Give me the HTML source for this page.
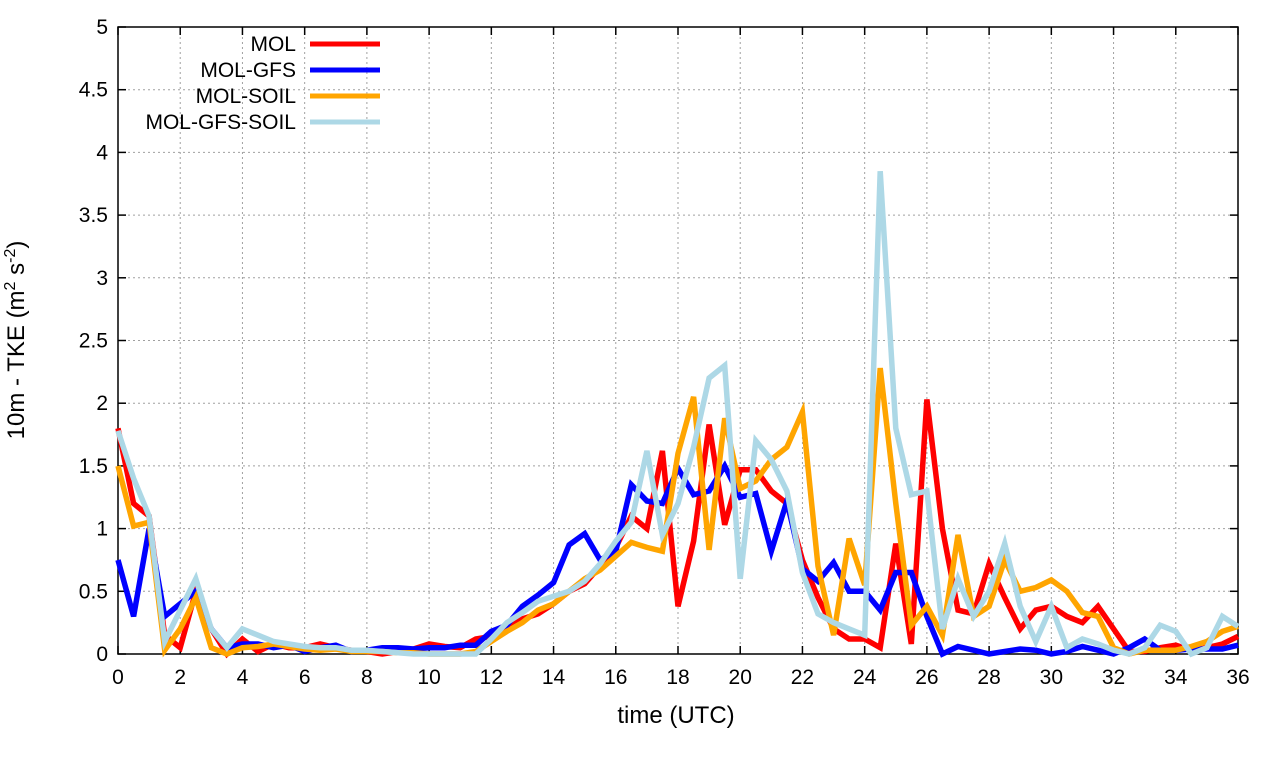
<!DOCTYPE html>
<html><head><meta charset="utf-8"><style>
body{margin:0;background:#fff;}
svg text{font-family:"Liberation Sans",sans-serif;fill:#000;}
</style></head><body>
<svg id="chart" width="1280" height="760" xmlns="http://www.w3.org/2000/svg">
<g id="grid"></g>
<g id="axes"></g>
<g id="series"></g>
<g id="legend"></g>
<text x="676" y="723" font-size="24" text-anchor="middle">time (UTC)</text>
<text transform="translate(24,340) rotate(-90)" font-size="24" text-anchor="middle">10m - TKE (m<tspan font-size="16" dy="-9">2</tspan><tspan dy="9"> s</tspan><tspan font-size="16" dy="-9">-2</tspan><tspan dy="9">)</tspan></text>
</svg>
<script>
const xTicks=[0,2,4,6,8,10,12,14,16,18,20,22,24,26,28,30,32,34,36];
const yTicks=[0,0.5,1,1.5,2,2.5,3,3.5,4,4.5,5];
const yTickLabels=["0","0.5","1","1.5","2","2.5","3","3.5","4","4.5","5"];
const seriesNames=["MOL","MOL-GFS","MOL-SOIL","MOL-GFS-SOIL"];
const timeStep=0.5;
const mol=[1.8,1.2,1.1,0.15,0.05,0.5,0.2,0.0,0.12,0.02,0.08,0.05,0.05,0.08,0.05,0.03,0.02,0.0,0.02,0.04,0.08,0.06,0.05,0.12,0.14,0.2,0.28,0.32,0.4,0.5,0.56,0.7,0.85,1.1,1.0,1.62,0.38,0.9,1.83,1.03,1.47,1.47,1.3,1.2,0.75,0.45,0.2,0.12,0.12,0.05,0.88,0.08,2.03,1.0,0.35,0.32,0.72,0.45,0.2,0.35,0.38,0.3,0.25,0.38,0.2,0.02,0.02,0.05,0.07,0.03,0.05,0.08,0.14];
const molGfs=[0.75,0.3,1.0,0.3,0.4,0.5,0.2,0.05,0.08,0.08,0.05,0.07,0.02,0.05,0.07,0.02,0.03,0.05,0.05,0.04,0.05,0.05,0.07,0.07,0.18,0.23,0.38,0.47,0.57,0.87,0.96,0.75,0.82,1.35,1.22,1.2,1.48,1.27,1.3,1.5,1.25,1.28,0.82,1.22,0.68,0.58,0.73,0.5,0.5,0.35,0.65,0.65,0.3,0.0,0.06,0.03,0.0,0.02,0.04,0.03,0.0,0.02,0.06,0.03,0.0,0.05,0.12,0.03,0.03,0.04,0.04,0.04,0.07];
const molSoil=[1.5,1.02,1.05,0.03,0.2,0.45,0.05,0.0,0.05,0.06,0.08,0.06,0.04,0.03,0.04,0.02,0.02,0.02,0.01,0.01,0.0,0.0,0.0,0.02,0.1,0.18,0.25,0.35,0.4,0.5,0.6,0.67,0.78,0.89,0.85,0.82,1.6,2.05,0.83,1.88,1.32,1.38,1.55,1.65,1.93,0.7,0.15,0.92,0.55,2.28,1.2,0.23,0.38,0.15,0.95,0.3,0.38,0.75,0.5,0.53,0.59,0.5,0.33,0.3,0.05,0.0,0.03,0.03,0.03,0.06,0.1,0.18,0.22];
const molGfsSoil=[1.78,1.4,1.1,0.1,0.35,0.6,0.2,0.05,0.2,0.15,0.1,0.08,0.06,0.05,0.05,0.03,0.03,0.02,0.01,0.0,0.0,0.0,0.0,0.0,0.12,0.25,0.33,0.42,0.46,0.5,0.58,0.72,0.9,1.05,1.62,0.95,1.2,1.65,2.2,2.3,0.6,1.7,1.55,1.3,0.65,0.32,0.25,0.2,0.15,3.85,1.8,1.27,1.3,0.2,0.6,0.3,0.5,0.88,0.38,0.1,0.38,0.05,0.12,0.08,0.03,0.0,0.05,0.23,0.18,0.0,0.05,0.3,0.22];

const L=118,R=1238,T=27,B=654;
const xs=v=>L+(v-0)/36*(R-L);
const ys=v=>B-(v/5)*(B-T);
const NS="http://www.w3.org/2000/svg";
function mk(tag,parent,attrs){const e=document.createElementNS(NS,tag);for(const k in attrs)e.setAttribute(k,attrs[k]);parent.appendChild(e);return e;}
const grid=document.getElementById('grid'),axes=document.getElementById('axes'),ser=document.getElementById('series'),leg=document.getElementById('legend');
xTicks.forEach(t=>{
  const x=xs(t);
  if(t>0&&t<36){const g=mk('line',grid,{x1:x,x2:x,y1:T,y2:B,stroke:'#a0a0a0','stroke-dasharray':'2,3','stroke-width':1});
  
  }
  const tk=mk('line',axes,{x1:x,x2:x,y1:B,y2:B-8,stroke:'#000','stroke-width':1.5});
  
  
  const tk2=mk('line',axes,{x1:x,x2:x,y1:T,y2:T+8,stroke:'#000','stroke-width':1.5});
  
  
  const lb=mk('text',axes,{x:x,y:B+30,'font-size':21,'text-anchor':'middle'});lb.textContent=t;
  
  
});
yTicks.forEach((t,i)=>{
  const y=ys(t);
  if(t>0&&t<5){const g=mk('line',grid,{x1:L,x2:R,y1:y,y2:y,stroke:'#a0a0a0','stroke-dasharray':'2,3','stroke-width':1});
  
  }
  const tk=mk('line',axes,{x1:L,x2:L+8,y1:y,y2:y,stroke:'#000','stroke-width':1.5});
  
  
  const tk2=mk('line',axes,{x1:R,x2:R-8,y1:y,y2:y,stroke:'#000','stroke-width':1.5});
  
  
  const lb=mk('text',axes,{x:L-10,y:y+7,'font-size':21,'text-anchor':'end'});lb.textContent=yTickLabels[i];
  
  
});
const frame=mk('rect',axes,{x:L,y:T,width:R-L,height:B-T,fill:'none',stroke:'#000','stroke-width':1.5});


const all=[mol,molGfs,molSoil,molGfsSoil];
const colors=['#ff0000','#0000ff','#ffa500','#add8e6'];
const names=['series-mol','series-mol-gfs','series-mol-soil','series-mol-gfs-soil'];
all.forEach((d,i)=>{
  const pts=d.map((v,j)=>xs(j*timeStep).toFixed(1)+','+ys(v).toFixed(1)).join(' ');
  const p=mk('polyline',ser,{points:pts,fill:'none',stroke:colors[i],'stroke-width':5.5,'stroke-linejoin':'miter'});
  
  
  const ly=44+i*26;
  const t=mk('text',leg,{x:296,y:ly+7,'font-size':21,'text-anchor':'end'});t.textContent=seriesNames[i];
  
  
  const l=mk('line',leg,{x1:310,x2:380,y1:ly,y2:ly,stroke:colors[i],'stroke-width':5});
  
  
});
</script>
</body></html>
